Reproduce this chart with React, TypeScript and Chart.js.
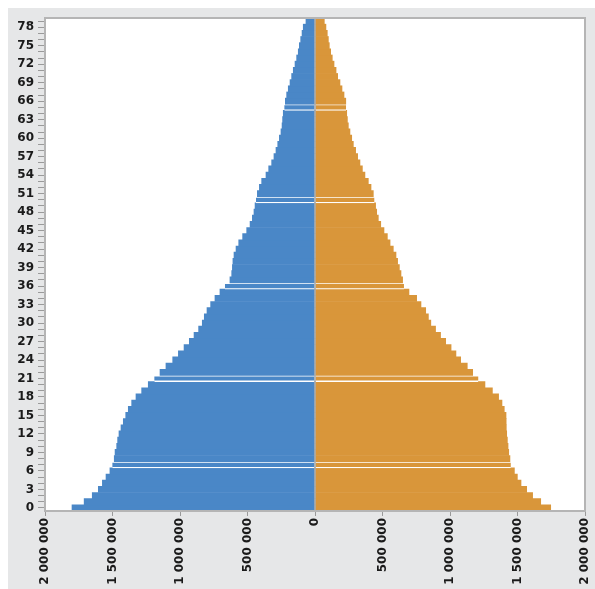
import React, { useEffect, useRef } from 'react';
import { Chart, registerables } from 'chart.js';

Chart.register(...registerables);

const AGES = [
  '0', '1', '2', '3', '4', '5', '6', '7', '8', '9',
  '10', '11', '12', '13', '14', '15', '16', '17', '18', '19',
  '20', '21', '22', '23', '24', '25', '26', '27', '28', '29',
  '30', '31', '32', '33', '34', '35', '36', '37', '38', '39',
  '40', '41', '42', '43', '44', '45', '46', '47', '48', '49',
  '50', '51', '52', '53', '54', '55', '56', '57', '58', '59',
  '60', '61', '62', '63', '64', '65', '66', '67', '68', '69',
  '70', '71', '72', '73', '74', '75', '76', '77', '78', '79',
];

// Males (drawn to the left)
const MALE = [
  1800000, 1710000, 1650000, 1605000, 1575000, 1548000, 1519000, 1501000, 1487000, 1481000,
  1469000, 1462000, 1452000, 1437000, 1420000, 1402000, 1383000, 1358000, 1326000, 1284000,
  1235000, 1190000, 1148000, 1104000, 1054000, 1012000, 970000, 931000, 896000, 862000,
  835000, 820000, 800000, 773000, 741000, 704000, 667000, 630000, 617000, 612000,
  608000, 600000, 585000, 565000, 536000, 506000, 481000, 464000, 452000, 444000,
  437000, 427000, 412000, 395000, 363000, 343000, 321000, 304000, 289000, 276000,
  264000, 252000, 244000, 240000, 235000, 227000, 220000, 210000, 198000, 185000,
  173000, 161000, 148000, 136000, 124000, 116000, 106000, 96000, 87000, 67000,
];

// Females (drawn to the right)
const FEMALE = [
  1746000, 1672000, 1612000, 1568000, 1526000, 1499000, 1477000, 1450000, 1444000, 1435000,
  1430000, 1425000, 1420000, 1417000, 1416000, 1415000, 1402000, 1385000, 1360000, 1314000,
  1259000, 1210000, 1168000, 1128000, 1079000, 1044000, 1008000, 968000, 930000, 893000,
  858000, 840000, 820000, 785000, 753000, 696000, 659000, 649000, 637000, 625000,
  612000, 600000, 580000, 556000, 536000, 511000, 487000, 469000, 457000, 449000,
  440000, 432000, 415000, 395000, 370000, 351000, 333000, 316000, 301000, 284000,
  272000, 259000, 247000, 240000, 235000, 230000, 228000, 215000, 200000, 185000,
  168000, 156000, 141000, 128000, 116000, 106000, 99000, 91000, 81000, 69000,
];

const HIGHLIGHT = [7, 21, 36, 50, 65];

const X_MIN = -2000000;
const X_MAX = 2000000;
const X_STEP = 500000;

const fmt = (v: number) => String(Math.abs(v)).replace(/\B(?=(\d{3})+(?!\d))/g, ' ');

const FONT = { family: '"DejaVu Sans", Verdana, sans-serif', size: 12, weight: 'bold' };

const framePlugin = {
  id: 'frame',
  beforeDatasetsDraw(chart: any) {
    const { ctx, chartArea: a } = chart;
    ctx.save();
    ctx.fillStyle = '#ffffff';
    ctx.fillRect(a.left, a.top, a.right - a.left, a.bottom - a.top);
    ctx.restore();
  },
  afterDatasetsDraw(chart: any) {
    const { ctx, chartArea: a, scales } = chart;
    const x0 = scales.x.getPixelForValue(0);
    ctx.save();
    ctx.strokeStyle = '#a9a9a9';
    ctx.lineWidth = 1.5;
    ctx.beginPath();
    ctx.moveTo(x0, a.top);
    ctx.lineTo(x0, a.bottom);
    ctx.stroke();
    ctx.strokeStyle = '#b5b5b5';
    ctx.lineWidth = 2;
    ctx.strokeRect(a.left, a.top, a.right - a.left, a.bottom - a.top);
    ctx.restore();
  },
};

export default function App() {
  const ref = useRef<HTMLCanvasElement | null>(null);

  useEffect(() => {
    if (!ref.current) return;
    const hl = (ctx: any) => HIGHLIGHT.includes(ctx.dataIndex);
    const chart = new Chart(ref.current, {
      type: 'bar',
      data: {
        labels: AGES,
        datasets: [
          {
            label: 'Male',
            data: MALE.map((v) => -v),
            backgroundColor: '#4a87c7',
            borderColor: '#ffffff',
            borderWidth: (ctx: any) => (hl(ctx) ? { top: 1.3, bottom: 1.3, left: 0, right: 0 } : 0),
            borderSkipped: false,
            categoryPercentage: 1,
            barPercentage: 1,
          },
          {
            label: 'Female',
            data: FEMALE,
            backgroundColor: '#d9963a',
            borderColor: '#ffffff',
            borderWidth: (ctx: any) => (hl(ctx) ? { top: 1.3, bottom: 1.3, left: 0, right: 0 } : 0),
            borderSkipped: false,
            categoryPercentage: 1,
            barPercentage: 1,
          },
        ],
      },
      options: {
        indexAxis: 'y',
        animation: false,
        responsive: false,
        maintainAspectRatio: false,
        layout: { padding: { left: 0, right: 10, top: 10, bottom: 0 } },
        plugins: {
          legend: { display: false },
          tooltip: { enabled: false },
        },
        scales: {
          x: {
            type: 'linear',
            min: X_MIN,
            max: X_MAX,
            stacked: true,
            border: { display: false },
            grid: {
              drawOnChartArea: false,
              drawTicks: true,
              tickLength: 5,
              tickColor: '#9a9a9a',
            },
            ticks: {
              stepSize: X_STEP,
              minRotation: 90,
              maxRotation: 90,
              padding: 2,
              color: '#1a1a1a',
              font: FONT,
              callback: (v: any) => fmt(Number(v)),
            },
            afterFit: (s: any) => {
              s.height = 78;
              s.paddingLeft = 0;
              s.paddingRight = 0;
            },
          },
          y: {
            type: 'category',
            reverse: true,
            stacked: true,
            offset: true,
            border: { display: false },
            grid: {
              drawOnChartArea: false,
              drawTicks: true,
              tickLength: 7,
              tickColor: '#9a9a9a',
              offset: false,
            },
            ticks: {
              autoSkip: false,
              padding: 4,
              color: '#1a1a1a',
              font: FONT,
              callback: (_v: any, i: number) => (i % 3 === 0 ? AGES[i] : ''),
            },
            afterFit: (s: any) => {
              s.width = 37;
              s.paddingTop = 0;
              s.paddingBottom = 0;
            },
          },
        },
      },
      plugins: [framePlugin],
    } as any);
    return () => chart.destroy();
  }, []);

  return (
    <div
      style={{
        position: 'fixed',
        left: 8,
        top: 8,
        width: 587,
        height: 581,
        background: '#e6e7e8',
      }}
    >
      <canvas ref={ref} width={587} height={581} style={{ display: 'block', width: 587, height: 581 }} />
    </div>
  );
}
